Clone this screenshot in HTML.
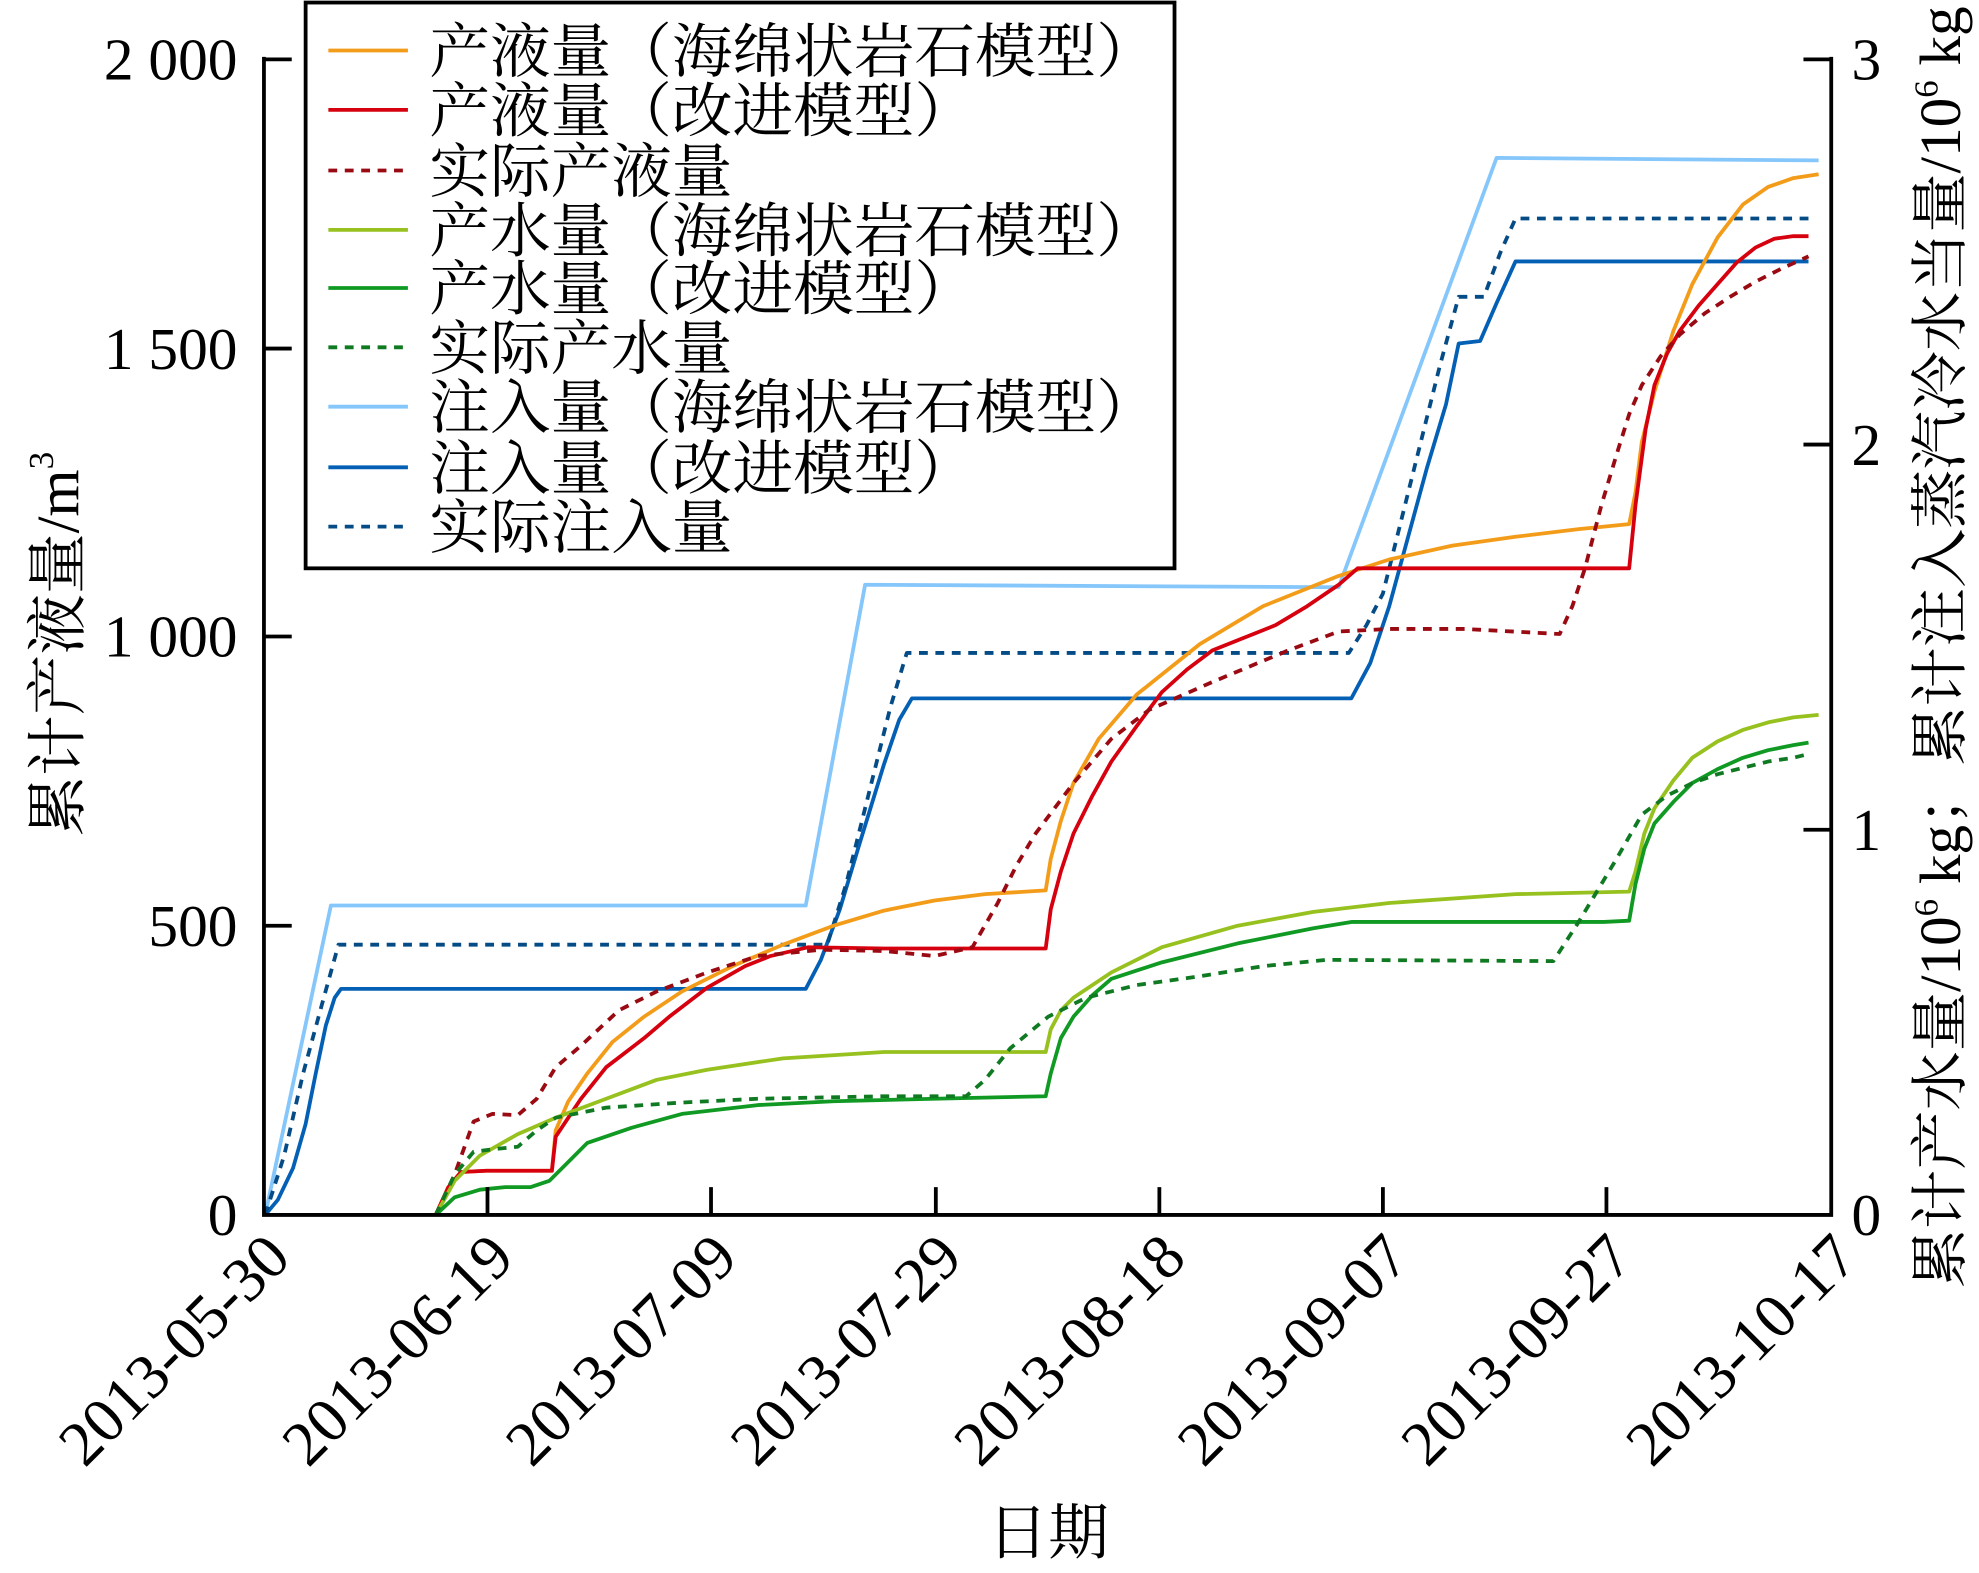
<!DOCTYPE html>
<html><head><meta charset="utf-8"><style>html,body{margin:0;padding:0;background:#fff}svg{display:block}</style></head>
<body>
<svg xmlns="http://www.w3.org/2000/svg" width="1979" height="1573" viewBox="0 0 1567 1245.5">
<g font-family="'Liberation Serif','Noto Serif CJK SC',serif" fill="#000">
<g fill="none" stroke-width="3" stroke-linejoin="round" stroke-linecap="butt">
<polyline stroke="#85c6fb" points="210,962 262,717 638,717 685,463 1060,465 1185,125 1440,127"/>
<polyline stroke="#0460b5" points="210,962 220,950 232,925 242,890 250,850 258,812 265,790 270,783 638,783 650,760 665,720 680,670 700,605 712,570 722,553 1070,553 1085,525 1100,480 1115,425 1130,370 1145,320 1155,272 1172,270 1185,240 1200,207 1432,207"/>
<polyline stroke="#054c87" stroke-dasharray="7,6" points="210,962 225,915 240,850 255,795 268,748 655,748 670,700 690,620 705,560 718,517 1068,517 1082,495 1095,470 1110,410 1125,350 1140,290 1155,235 1175,235 1188,200 1200,173 1432,173"/>
<polyline stroke="#f39c1a" points="345,962 355,940 365,928 385,927 437,927 440,895 450,872 465,850 485,825 510,805 540,785 580,765 620,748 660,733 700,721 740,713 780,708 828,705 832,680 840,650 850,620 870,585 900,550 950,510 1000,480 1060,456 1100,443 1150,432 1200,425 1250,419 1290,415 1295,390 1300,350 1310,310 1325,262 1340,225 1360,188 1380,162 1400,148 1420,141 1440,138"/>
<polyline stroke="#d6000f" points="345,962 355,940 365,928 385,927 437,927 440,900 450,885 460,870 480,845 510,822 530,805 560,782 590,765 610,757 640,750 700,751 828,751 832,720 840,690 850,660 865,630 880,603 900,575 920,548 940,530 960,515 985,505 1010,495 1035,480 1060,463 1075,450 1290,450 1295,400 1303,340 1310,305 1320,280 1330,262 1345,242 1360,225 1375,208 1390,196 1405,189 1420,187 1432,187"/>
<polyline stroke="#9a0a12" stroke-dasharray="7,6" points="345,962 360,930 375,888 390,882 410,883 425,870 440,845 460,828 490,800 520,785 560,770 600,757 650,752 700,753 740,757 770,750 790,715 805,685 820,660 850,620 880,585 910,562 960,540 1020,515 1060,500 1100,498 1160,498 1235,502 1245,480 1255,450 1268,400 1280,360 1290,328 1300,305 1315,282 1330,265 1350,248 1370,235 1390,223 1410,213 1432,203"/>
<polyline stroke="#97c11f" points="345,962 360,935 380,915 410,898 440,885 480,870 520,855 560,847 620,838 700,833 780,833 828,833 832,815 840,800 850,790 880,770 920,750 980,733 1040,722 1100,715 1200,708 1290,706 1295,690 1302,660 1310,640 1325,618 1340,600 1360,587 1380,578 1400,572 1420,568 1440,566"/>
<polyline stroke="#119a23" points="345,962 360,948 380,942 400,940 420,940 435,935 450,920 465,905 500,893 540,882 600,875 660,872 740,870 828,868 832,850 840,822 850,805 865,788 880,775 920,762 980,747 1040,735 1070,730 1270,730 1290,729 1295,700 1302,672 1310,652 1325,635 1340,620 1360,609 1380,600 1400,594 1420,590 1432,588"/>
<polyline stroke="#0f7a22" stroke-dasharray="7,6" points="345,962 360,930 375,912 390,910 410,908 425,895 440,885 480,877 540,873 600,870 700,868 765,868 780,855 800,830 830,805 860,790 900,780 950,773 1000,765 1050,760 1230,761 1250,730 1265,705 1280,680 1300,645 1320,630 1340,620 1360,613 1380,608 1400,603 1420,600 1432,597"/>
</g>
<g stroke="#000" stroke-width="3" fill="none">
<polyline points="209,45 209,962 1450,962 1450,45"/>
<path d="M209,47h22M209,276h22M209,504h22M209,733h22M1450,47h-22M1450,352h-22M1450,657h-22M386,962v-22M563,962v-22M741,962v-22M918,962v-22M1095,962v-22M1272,962v-22"/>
</g>
<g font-size="47" text-anchor="end">
<text x="188" y="63">2 000</text><text x="188" y="292">1 500</text><text x="188" y="520">1 000</text><text x="188" y="749">500</text><text x="188" y="978">0</text>
</g>
<g font-size="47">
<text x="1466" y="63">3</text><text x="1466" y="368">2</text><text x="1466" y="673">1</text><text x="1466" y="978">0</text>
</g>
<g font-size="50" text-anchor="end">
<text transform="translate(232,998) rotate(-45)">2013-05-30</text>
<text transform="translate(409,998) rotate(-45)">2013-06-19</text>
<text transform="translate(586,998) rotate(-45)">2013-07-09</text>
<text transform="translate(764,998) rotate(-45)">2013-07-29</text>
<text transform="translate(941,998) rotate(-45)">2013-08-18</text>
<text transform="translate(1118,998) rotate(-45)">2013-09-07</text>
<text transform="translate(1295,998) rotate(-45)">2013-09-27</text>
<text transform="translate(1473,998) rotate(-45)">2013-10-17</text>
</g>
<text x="830" y="1230" font-size="48" text-anchor="middle">日期</text>
<text transform="translate(62,510) rotate(-90)" font-size="48" text-anchor="middle">累计产液量/m<tspan font-size="28" dy="-20">3</tspan></text>
<text transform="translate(1552,1020) rotate(-90)" font-size="46" textLength="1015" lengthAdjust="spacingAndGlyphs">累计产水量/10<tspan font-size="27" dy="-18">6</tspan><tspan dy="18"> kg；累计注入蒸汽冷水当量/10</tspan><tspan font-size="27" dy="-18">6</tspan><tspan dy="18"> kg</tspan></text>
<rect x="242" y="2" width="688" height="448" fill="#fff" stroke="#000" stroke-width="3"/>
<g stroke-width="3">
<line x1="260" x2="323" y1="40" y2="40" stroke="#f39c1a"/>
<line x1="260" x2="323" y1="87" y2="87" stroke="#d6000f"/>
<line x1="260" x2="323" y1="135" y2="135" stroke="#9a0a12" stroke-dasharray="7,6"/>
<line x1="260" x2="323" y1="182" y2="182" stroke="#97c11f"/>
<line x1="260" x2="323" y1="228" y2="228" stroke="#119a23"/>
<line x1="260" x2="323" y1="275" y2="275" stroke="#0f7a22" stroke-dasharray="7,6"/>
<line x1="260" x2="323" y1="322" y2="322" stroke="#85c6fb"/>
<line x1="260" x2="323" y1="370" y2="370" stroke="#0460b5"/>
<line x1="260" x2="323" y1="417" y2="417" stroke="#054c87" stroke-dasharray="7,6"/>
</g>
<g font-size="47" font-family="'Noto Serif CJK SC',serif">
<text x="340" y="57" textLength="576" lengthAdjust="spacingAndGlyphs">产液量（海绵状岩石模型）</text>
<text x="340" y="104" textLength="432" lengthAdjust="spacingAndGlyphs">产液量（改进模型）</text>
<text x="340" y="152" textLength="240" lengthAdjust="spacingAndGlyphs">实际产液量</text>
<text x="340" y="199" textLength="576" lengthAdjust="spacingAndGlyphs">产水量（海绵状岩石模型）</text>
<text x="340" y="245" textLength="432" lengthAdjust="spacingAndGlyphs">产水量（改进模型）</text>
<text x="340" y="292" textLength="240" lengthAdjust="spacingAndGlyphs">实际产水量</text>
<text x="340" y="339" textLength="576" lengthAdjust="spacingAndGlyphs">注入量（海绵状岩石模型）</text>
<text x="340" y="387" textLength="432" lengthAdjust="spacingAndGlyphs">注入量（改进模型）</text>
<text x="340" y="434" textLength="240" lengthAdjust="spacingAndGlyphs">实际注入量</text>
</g>
</g>
</svg>
</body></html>
